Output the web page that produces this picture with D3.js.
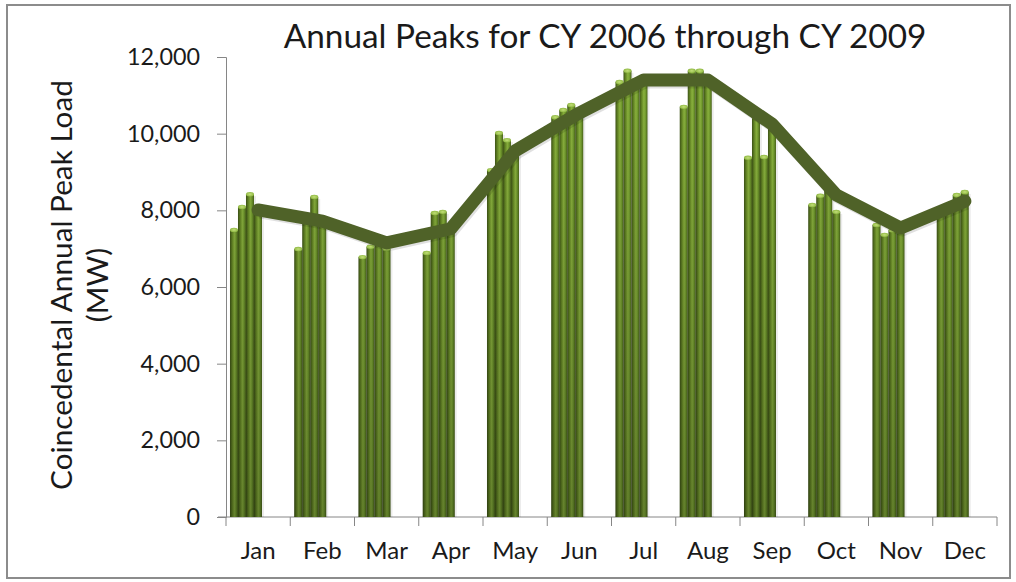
<!DOCTYPE html>
<html><head><meta charset="utf-8">
<script src="https://cdn.jsdelivr.net/npm/d3@7"></script>
<style>html,body{margin:0;padding:0;background:#fff;}svg{display:block;}</style>
</head><body>
<svg id="chart" width="1016" height="582"></svg>
<script>
const months = ["Jan","Feb","Mar","Apr","May","Jun","Jul","Aug","Sep","Oct","Nov","Dec"];
const years = ["2006","2007","2008","2009"];
const peaks2006 = [7490, 6990, 6780, 6890, 9050, 10430, 11350, 10700, 9370, 8140, 7620, 8000];
const peaks2007 = [8090, 7750, 7050, 7930, 10020, 10620, 11640, 11640, 10430, 8380, 7360, 8100];
const peaks2008 = [8420, 8350, 7280, 7960, 9830, 10750, 11400, 11640, 9390, 8740, 7480, 8400];
const peaks2009 = [8100, 7700, 7000, 7500, 9500, 10550, 11300, 11350, 10220, 7960, 7450, 8480];
const averageLine = [8010, 7720, 7150, 7520, 9550, 10540, 11400, 11400, 10250, 8400, 7540, 8240];
const yTicks = [0, 2000, 4000, 6000, 8000, 10000, 12000];
const titleText = "Annual Peaks for CY 2006 through CY 2009";
const yTitle1 = "Coincedental Annual Peak Load";
const yTitle2 = "(MW)";

const series = [peaks2006, peaks2007, peaks2008, peaks2009];
const svg = d3.select("#chart");
const FONT = "Lato, 'Open Sans', sans-serif";

// frame
svg.append("rect").attr("x",7).attr("y",5).attr("width",1003).attr("height",573)
  .attr("fill","#fff").attr("stroke","#8c8c8c").attr("stroke-width",2);

const plot = {left:226, right:997, top:57, bottom:517};
const x = d3.scaleBand().domain(months).range([plot.left, plot.right]).padding(0);
const bw = x.bandwidth();
const xIn = d3.scaleBand().domain(years).range([0.062*bw, 0.56*bw]).padding(0);
const y = d3.scaleLinear().domain([0,12000]).range([plot.bottom, plot.top]);

const defs = svg.append("defs");
const g1 = defs.append("linearGradient").attr("id","cyl").attr("x1","0").attr("x2","1").attr("y1","0").attr("y2","0");
[[0,"#3f5517"],[0.3,"#6a8e27"],[0.55,"#8db53f"],[0.75,"#76a030"],[1,"#4a6419"]].forEach(s=>g1.append("stop").attr("offset",s[0]).attr("stop-color",s[1]));
const g2 = defs.append("linearGradient").attr("id","shade").attr("gradientUnits","userSpaceOnUse")
  .attr("x1",0).attr("x2",0).attr("y1",plot.top).attr("y2",plot.bottom);
g2.append("stop").attr("offset",0).attr("stop-color","#000").attr("stop-opacity",0);
g2.append("stop").attr("offset",1).attr("stop-color","#000").attr("stop-opacity",0.28);
const cap = defs.append("radialGradient").attr("id","cap");
cap.append("stop").attr("offset",0).attr("stop-color","#c4e07a");
cap.append("stop").attr("offset",1).attr("stop-color","#8fb843");

// axes
const axisColor = "#868686";
const yAxis = svg.append("g").attr("transform",`translate(${plot.left},0)`)
  .call(d3.axisLeft(y).tickValues(yTicks).tickSize(9).tickFormat(d3.format(",")).tickPadding(17));
yAxis.select(".domain").attr("stroke",axisColor);
yAxis.selectAll(".tick line").attr("stroke",axisColor);
yAxis.selectAll("text").attr("font-family",FONT).attr("font-size",20).attr("fill","#1a1a1a");

const xAxis = svg.append("g").attr("transform",`translate(0,${plot.bottom})`)
  .call(d3.axisBottom(x).tickSize(0).tickPadding(25));
xAxis.select(".domain").attr("stroke",axisColor).attr("d",`M${plot.left-8},0H${plot.right}`);
xAxis.selectAll("text").attr("font-family",FONT).attr("font-size",20).attr("fill","#1a1a1a");
// category boundary ticks
svg.append("g").selectAll("line").data(months.concat(["end"])).join("line")
  .attr("x1",(d,i)=> i<12 ? x(d) : plot.right).attr("x2",(d,i)=> i<12 ? x(d) : plot.right)
  .attr("y1",plot.bottom).attr("y2",plot.bottom+9).attr("stroke",axisColor);

// bars
const barData = [];
months.forEach((m,i)=>years.forEach((yr,j)=>barData.push({m, yr, v: series[j][i]})));
const bars = svg.append("g");
bars.selectAll("rect.sh").data(barData).join("rect").attr("class","sh")
  .attr("x",d=>x(d.m)+xIn(d.yr)+2).attr("y",d=>y(d.v)+2)
  .attr("width",xIn.bandwidth()).attr("height",d=>plot.bottom-y(d.v)-2)
  .attr("fill","#000").attr("opacity",0.08);
bars.selectAll("rect.b").data(barData).join("rect").attr("class","b")
  .attr("x",d=>x(d.m)+xIn(d.yr)).attr("y",d=>y(d.v))
  .attr("width",xIn.bandwidth()).attr("height",d=>plot.bottom-y(d.v))
  .attr("fill","url(#cyl)");
bars.selectAll("rect.s").data(barData).join("rect").attr("class","s")
  .attr("x",d=>x(d.m)+xIn(d.yr)).attr("y",d=>y(d.v))
  .attr("width",xIn.bandwidth()).attr("height",d=>plot.bottom-y(d.v))
  .attr("fill","url(#shade)");
bars.selectAll("ellipse").data(barData).join("ellipse")
  .attr("cx",d=>x(d.m)+xIn(d.yr)+xIn.bandwidth()/2).attr("cy",d=>y(d.v))
  .attr("rx",xIn.bandwidth()/2).attr("ry",2.2)
  .attr("fill","url(#cap)");

// line
const line = d3.line().x((d,i)=>x(months[i])+bw/2).y(d=>y(d));
svg.append("path").datum(averageLine).attr("d",line)
  .attr("fill","none").attr("stroke","#000").attr("stroke-opacity",0.12).attr("stroke-width",13)
  .attr("stroke-linejoin","round").attr("transform","translate(1.5,2)");
svg.append("path").datum(averageLine).attr("d",line)
  .attr("fill","none").attr("stroke","#4f6228").attr("stroke-width",13)
  .attr("stroke-linejoin","round").attr("stroke-linecap","round");

// title
const title = svg.append("text").attr("x",605).attr("y",48).attr("text-anchor","middle")
  .attr("font-family",FONT).attr("font-size",30).attr("fill","#1a1a1a").text(titleText);
// y title
const yt = svg.append("g").attr("transform","translate(0,285) rotate(-90)");
const t1 = yt.append("text").attr("x",0).attr("y",72).attr("text-anchor","middle")
  .attr("font-family",FONT).attr("font-size",24).attr("fill","#1a1a1a").text(yTitle1);
const t2 = yt.append("text").attr("x",0).attr("y",108).attr("text-anchor","middle")
  .attr("font-family",FONT).attr("font-size",24).attr("fill","#1a1a1a").text(yTitle2);

// fit font sizes to reference text widths
function fit(sel, target){
  const w = sel.node().getComputedTextLength();
  const fs = +sel.attr("font-size");
  return fs*target/w;
}
title.attr("font-size", fit(title, 643));
const fy = fit(t1, 410);
t1.attr("font-size", fy); t2.attr("font-size", fy);
const tickSample = yAxis.selectAll("text").filter(d=>d===10000);
const fsT = fit(tickSample, 73);
yAxis.selectAll("text").attr("font-size", fsT);
const monSample = xAxis.selectAll("text").filter(d=>d==="Jan");
const fsM = fit(monSample, 35);
xAxis.selectAll("text").attr("font-size", fsM);
</script>
</body></html>
